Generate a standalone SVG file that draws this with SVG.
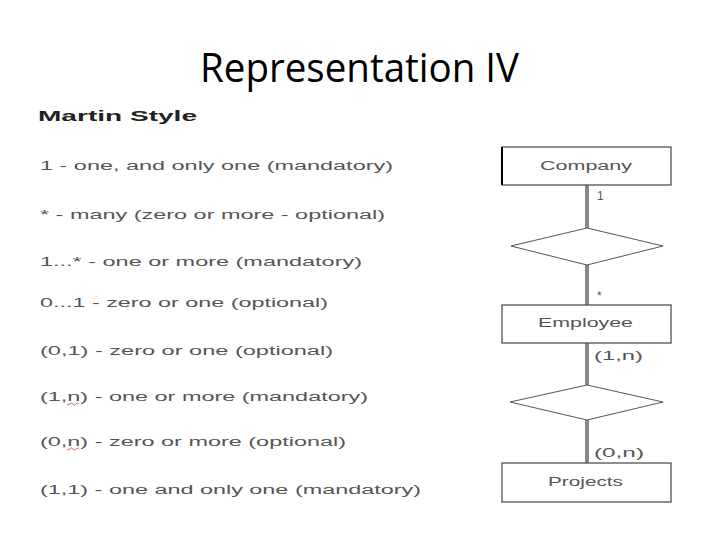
<svg xmlns="http://www.w3.org/2000/svg" width="720" height="540" viewBox="0 0 720 540">
<style>
.title{font-family:"Open Sans","Noto Sans",sans-serif;font-size:40px;fill:#000}
.head{font-family:"Liberation Sans",Arial,sans-serif;font-size:15px;font-weight:bold;fill:#222}
.body{font-family:"Liberation Sans",Arial,sans-serif;font-size:12px;fill:#555}
.ent{fill:#fff;stroke:#444;stroke-width:1.2}
.edge{stroke:#000;stroke-width:2}
.lbl{font-family:"Liberation Sans",Arial,sans-serif;font-size:12px;fill:#555}
.conn{stroke:#888;stroke-width:4}
.rel{fill:#fff;stroke:#555;stroke-width:1}
.sq{fill:none;stroke:#d33;stroke-width:0.8}
</style>
<rect width="720" height="540" fill="#fff"/>
<text class="title" x="200" y="82" textLength="319" lengthAdjust="spacingAndGlyphs">Representation IV</text>
<g id="legend">
<text class="head" x="38" y="121" textLength="159" lengthAdjust="spacingAndGlyphs">Martin Style</text>
<text class="body" x="40" y="170" textLength="353" lengthAdjust="spacingAndGlyphs">1 - one, and only one (mandatory)</text>
<text class="body" x="40" y="219" textLength="345" lengthAdjust="spacingAndGlyphs">* - many (zero or more - optional)</text>
<text class="body" x="40" y="266" textLength="322" lengthAdjust="spacingAndGlyphs">1...* - one or more (mandatory)</text>
<text class="body" x="40" y="307" textLength="288" lengthAdjust="spacingAndGlyphs">0...1 - zero or one (optional)</text>
<text class="body" x="40" y="355" textLength="293" lengthAdjust="spacingAndGlyphs">(0,1) - zero or one (optional)</text>
<text class="body" x="40" y="401" textLength="328" lengthAdjust="spacingAndGlyphs">(1,n) - one or more (mandatory)</text>
<text class="body" x="40" y="446" textLength="306" lengthAdjust="spacingAndGlyphs">(0,n) - zero or more (optional)</text>
<text class="body" x="40" y="494" textLength="381" lengthAdjust="spacingAndGlyphs">(1,1) - one and only one (mandatory)</text>
<path class="sq" d="M67 404 q1.5 2 3 0 t3 0 t3 0 t3 0"/>
<path class="sq" d="M67 449 q1.5 2 3 0 t3 0 t3 0 t3 0"/>
</g>
<g id="connectors">
<line class="conn" x1="587" y1="185" x2="587" y2="228"/>
<line class="conn" x1="587" y1="265" x2="587" y2="305"/>
<line class="conn" x1="587" y1="343" x2="587" y2="385"/>
<line class="conn" x1="587" y1="420" x2="587" y2="463"/>
<text class="lbl" x="597" y="200">1</text>
<text class="lbl" x="597" y="300">*</text>
<text class="lbl" x="594" y="360" textLength="49" lengthAdjust="spacingAndGlyphs">(1,n)</text>
<text class="lbl" x="594" y="457" textLength="50" lengthAdjust="spacingAndGlyphs">(0,n)</text>
</g>
<g id="company">
<rect class="ent" x="502" y="147" width="169" height="38"/>
<line class="edge" x1="502" y1="147" x2="502" y2="185"/>
<text class="lbl" x="540" y="170" textLength="92" lengthAdjust="spacingAndGlyphs">Company</text>
</g>
<g id="rel1">
<polygon class="rel" points="587,228 663,246 587,265 511,246"/>
</g>
<g id="employee">
<rect class="ent" x="502" y="305" width="169" height="38"/>
<text class="lbl" x="538" y="327" textLength="95" lengthAdjust="spacingAndGlyphs">Employee</text>
</g>
<g id="rel2">
<polygon class="rel" points="587,385 663,402 587,420 510,402"/>
</g>
<g id="projects">
<rect class="ent" x="502" y="463" width="169" height="39"/>
<text class="lbl" x="548" y="486" textLength="75" lengthAdjust="spacingAndGlyphs">Projects</text>
</g>
</svg>
